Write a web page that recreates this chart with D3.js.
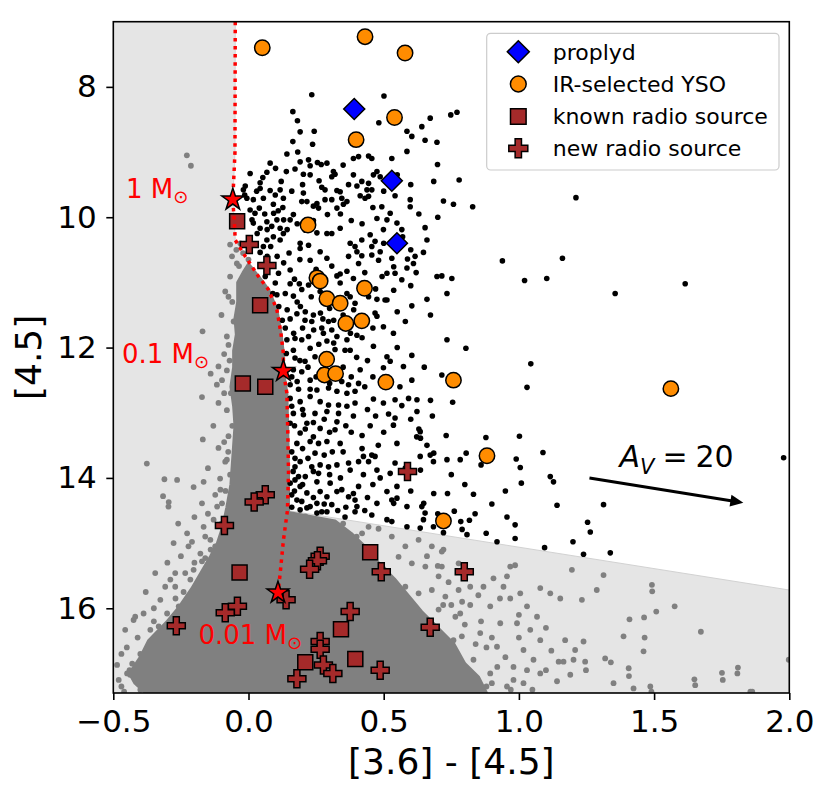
<!DOCTYPE html>
<html><head><meta charset="utf-8">
<script src="https://cdn.jsdelivr.net/npm/d3@7"></script>
<style>body{margin:0;background:#fff} svg{display:block;font-family:"DejaVu Sans",sans-serif}</style>
</head><body><svg id="chart" width="830" height="797"></svg>
<script>
// ---------------- DATA ----------------
const xDomain = [-0.5, 2.0];
const yDomain = [7.0, 17.3];
const xTicks = [-0.5, 0.0, 0.5, 1.0, 1.5, 2.0];
const yTicks = [8, 10, 12, 14, 16];
const xLabel = "[3.6] - [4.5]";
const yLabel = "[4.5]";

const proplyd = [[0.391,8.34],[0.530,9.44],[0.549,10.40]];
const irYSO = [[0.051,7.40],[0.431,7.23],[0.579,7.48],[0.540,8.47],[0.398,8.81],[0.220,10.12],
  [0.253,10.93],[0.265,10.98],[0.429,11.09],[0.290,11.25],[0.339,11.32],[0.360,11.63],[0.419,11.59],
  [0.289,12.18],[0.281,12.42],[0.322,12.40],[0.508,12.53],[0.758,12.50],[0.882,13.66],[0.721,14.66],[1.562,12.63]];
const knownRadio = [[-0.042,10.06],[0.043,11.35],[-0.021,12.55],[0.062,12.60],[-0.033,15.45],
  [0.450,15.14],[0.342,16.32],[0.210,16.83],[0.395,16.78]];
const newRadio = [[0.003,10.42],[0.068,10.74],[0.062,14.26],[0.021,14.37],[-0.089,14.73],[0.588,13.90],
  [0.265,15.20],[0.255,15.27],[0.226,15.40],[0.491,15.44],[0.139,15.87],[-0.041,15.97],[-0.086,16.07],
  [-0.267,16.27],[0.376,16.05],[0.672,16.29],[0.265,16.51],[0.265,16.63],[0.277,16.87],[0.312,17.0],
  [0.179,17.08],[0.487,16.95],[0.798,15.44]];

const isochrone = [[-0.049,7.0],[-0.05,9.0],[-0.058,9.73],[-0.052,10.1],[-0.049,10.35],[-0.012,10.6],
  [0.037,10.91],[0.074,11.11],[0.105,11.42],[0.12,11.78],[0.129,12.09],[0.129,12.36],[0.142,12.7],
  [0.146,13.42],[0.148,13.93],[0.144,14.5],[0.129,14.96],[0.117,15.47],[0.109,15.76]];
const massPoints = [[-0.058,9.73],[0.129,12.36],[0.109,15.76]];
const massNames = ["1 M", "0.1 M", "0.01 M"];
const massLabelAt = [[-0.453,9.71],[-0.468,12.24],[-0.185,16.55]];
const reddeningCut = [[0.144,14.5],[2.0,15.72]];
const avArrow = [[1.261,14.0],[1.83,14.38]];
const avLabelAt = [1.372,13.84];
const legendNames = ["proplyd","IR-selected YSO","known radio source","new radio source"];

const blackDots = [
[0.234,8.12],[0.501,8.14],[0.672,8.48],[0.482,8.55],[0.641,8.61],
[0.164,8.38],[0.181,8.52],[0.191,8.69],[0.243,8.68],[0.164,8.84],[0.237,8.88],[0.142,9.03],[0.182,9.00],[0.191,9.15],[0.222,9.12],[0.255,9.16],[0.269,9.19],[0.290,9.17],[0.172,9.26],[0.228,9.21],[0.080,9.17],[0.068,9.31],[0.006,9.33],[0.053,9.39],[0.121,9.45],[0.043,9.47],[-0.012,9.52],[-0.019,9.58],[0.043,9.56],[0.080,9.59],[0.099,9.66],[0.117,9.58],[0.129,9.71],[0.055,9.71],[0.018,9.73],[-0.006,9.71],[0.092,9.80],[0.127,9.85],[0.040,9.86],[0.006,9.89],[0.024,9.94],[0.203,9.34],[0.228,9.35],[0.261,9.44],[0.314,9.30],[0.320,9.34],[0.308,9.38],[0.271,9.54],[0.283,9.58],[0.327,9.59],[0.339,9.61],[0.345,9.71],[0.364,9.76],[0.351,9.80],[0.308,9.73],[0.283,9.73],[0.253,9.79],[0.240,9.83],[0.216,9.76],[0.197,9.76],[0.203,9.63],[0.259,9.86],[0.327,9.86],[0.292,9.96],[0.166,9.96],[0.154,10.04],[0.105,10.04],[0.086,10.14],[0.043,10.17],[0.018,10.09],[0.068,10.07],[0.117,10.17],[0.129,10.25],[0.092,10.30],[0.068,10.35],[0.055,10.45],[0.043,10.54],[0.082,10.45],[0.117,10.35],[0.191,10.40],[0.222,10.43],[0.191,10.48],[0.253,10.24],[0.290,10.25],[0.308,10.25],[0.265,10.53],[0.290,10.63],[0.228,10.66],[0.339,10.17],[0.376,10.40],[0.394,10.45],[0.401,10.53],[0.419,10.59],[0.370,10.60],[0.407,10.71],[0.308,10.75],[0.339,10.87],[0.364,10.83],[0.327,10.90],[0.154,10.81],[0.111,10.86],[0.388,9.10],[0.407,9.07],[0.444,9.06],[0.456,9.10],[0.388,9.35],[0.419,9.45],[0.401,9.52],[0.444,9.48],[0.438,9.58],[0.456,9.58],[0.413,9.67],[0.444,9.68],[0.431,9.71],[0.462,9.35],[0.475,9.30],[0.487,9.38],[0.530,9.10],[0.542,9.67],[0.598,9.73],[0.598,9.84],[0.493,9.84],[0.475,10.02],[0.512,10.04],[0.524,9.94],[0.549,10.09],[0.499,10.19],[0.450,10.27],[0.468,10.37],[0.456,10.45],[0.419,10.35],[0.481,10.66],[0.530,10.63],[0.487,10.53],[0.456,10.58],[0.586,8.99],[0.586,8.68],[0.604,8.76],[0.616,10.60],[0.610,10.71],[0.586,10.78],[0.512,10.86],[0.542,10.86],[0.388,10.94],
[0.748,8.43],[0.771,8.39],[0.653,8.82],[0.697,8.85],[0.699,9.19],[0.779,9.43],[0.721,9.75],[0.758,9.80],[0.829,9.84],[1.211,9.70],[0.567,10.19],[0.653,10.16],[0.600,10.50],[0.588,10.64],[0.647,10.54],[0.567,10.96],[0.715,10.90],[0.752,10.94],[0.939,10.67],[1.161,10.63],[1.021,10.97],[1.103,10.94],[0.660,11.26],
[1.356,11.17],[1.615,11.02],[0.734,11.88],[0.804,12.01],
[0.154,11.02],[0.188,11.02],[0.222,11.04],[0.197,11.11],[0.136,11.17],[0.166,11.21],[0.105,11.19],[0.232,11.22],[0.265,11.14],[0.339,11.01],[0.376,11.22],[0.394,11.32],[0.444,11.22],[0.475,11.26],[0.505,11.27],[0.604,11.36],[0.468,11.47],[0.179,11.48],[0.154,11.56],[0.209,11.58],[0.234,11.60],[0.275,11.56],[0.296,11.60],[0.271,11.70],[0.308,11.73],[0.136,11.70],[0.172,11.86],[0.142,11.88],[0.197,11.88],[0.222,11.83],[0.277,11.78],[0.327,11.83],[0.364,11.88],[0.401,11.81],[0.499,11.68],[0.536,11.78],[0.462,11.98],[0.376,12.04],[0.357,12.04],[0.320,12.03],[0.228,12.01],[0.166,12.04],[0.140,12.09],[0.172,12.16],[0.209,12.21],[0.246,12.14],[0.512,12.14],[0.524,12.21],[0.604,12.12],[0.573,12.29],[0.499,12.31],[0.413,12.34],[0.166,12.34],[0.197,12.37],[0.228,12.50],[0.271,12.34],[0.345,12.52],[0.370,12.57],[0.407,12.55],[0.604,12.50],[0.154,12.57],[0.185,12.64],[0.228,12.64],[0.253,12.65],[0.296,12.62],[0.327,12.67],[0.364,12.70],[0.394,12.67],[0.462,12.79],[0.499,12.85],[0.542,12.80],[0.592,12.78],[0.623,12.80],[0.567,12.89],[0.154,12.78],[0.191,12.83],[0.228,12.75],[0.265,12.83],[0.296,12.88],[0.333,12.88],[0.364,12.90],[0.246,13.01],[0.203,13.03],[0.166,13.01],[0.290,12.98],[0.333,13.01],[0.394,12.85],[0.388,13.05],[0.518,13.02],[0.542,13.08],[0.623,12.98],[0.536,13.19],[0.154,13.16],[0.216,13.16],[0.265,13.24],[0.327,13.14],[0.191,13.31],[0.228,13.44],[0.259,13.47],[0.320,13.26],[0.339,13.47],[0.179,13.47],
[0.240,13.37],[0.290,13.44],[0.172,13.70],[0.191,13.75],[0.234,13.83],[0.265,13.80],[0.296,13.83],[0.327,13.80],[0.246,13.62],[0.240,13.90],[0.259,13.93],[0.185,13.98],[0.210,13.98],[0.253,14.06],[0.302,14.08],[0.265,14.21],[0.327,14.21],[0.345,14.18],[0.191,14.13],[0.216,14.23],[0.179,14.34],[0.197,14.36],[0.228,14.44],[0.253,14.39],[0.290,14.29],[0.308,14.41],[0.370,14.29],[0.388,14.24],[0.407,14.13],[0.394,14.34],[0.370,13.77],[0.376,13.88],[0.407,13.75],[0.425,13.67],[0.444,13.75],[0.456,13.65],[0.468,13.67],[0.425,13.95],[0.475,13.88],[0.487,14.00],[0.542,13.77],[0.524,13.93],[0.512,14.21],[0.549,14.13],[0.549,14.31],[0.530,14.34],[0.475,14.39],[0.456,14.57],[0.401,14.44],[0.394,14.52],[0.357,14.60],[0.290,14.52],[0.271,14.52],[0.253,14.54],[0.216,14.46],[0.191,14.49],[0.512,14.64],[0.530,14.67],[0.586,14.75],[0.641,14.44],[0.647,14.64],[0.653,14.54],[0.672,13.65],[0.684,13.75],[0.635,13.67],[0.622,13.37],[0.635,13.29],[0.635,14.77],[0.684,14.75],[0.172,13.83],[0.154,14.08],[0.160,14.26],[0.172,14.03],
[1.044,12.25],[0.715,12.42],[1.030,12.61],[0.755,12.84],[0.731,13.35],[0.878,13.38],[1.002,13.36],[1.089,13.61],[0.805,13.62],[0.783,13.72],[0.990,13.71],[1.005,13.84],[1.116,13.98],[1.128,14.06],[1.009,14.08],[1.141,14.42],[1.313,14.41],[0.736,14.24],[0.832,14.25],[0.761,14.51],[0.838,14.55],[0.785,14.67],[0.817,14.65],[0.956,14.60],[0.986,14.72],[0.790,14.79],[0.808,14.87],[0.879,14.85],[0.986,14.93],[0.919,14.98],[1.095,15.07],[1.254,14.68],[1.264,14.83],[1.200,14.98],[1.338,15.15],[1.239,15.17],[0.721,14.84],[1.979,13.69],
[0.673,12.81],[0.630,13.25],[0.636,13.39],[0.549,13.47],[0.685,13.62],[0.734,13.72],[0.636,13.88],[0.685,14.24],[0.648,14.39],[0.586,14.44],[0.537,14.39],
[-0.014,9.66],[0.013,10.04],[0.093,9.94],[0.130,10.04],[0.032,10.25],[0.069,10.19],[0.143,10.19],[0.069,10.60],[0.106,10.60],[0.062,10.91],[0.099,11.01],[0.090,11.17],[0.112,11.37],[0.143,11.42],[0.125,11.58],[0.167,11.78],[0.192,11.37],[0.266,11.47],[0.315,11.32],[0.364,11.17],[0.389,11.42],[0.315,11.58],[0.241,11.73],[0.315,11.93],[0.377,11.78],[0.475,11.52],[0.512,11.27],[0.537,11.12],[0.494,10.91],[0.537,10.76],[0.673,11.50],[0.697,10.91],[0.734,11.17],[0.685,9.45],
[0.16,12.45],[0.18,12.52],[0.16,12.9],[0.2,12.95],[0.17,13.2],[0.21,13.25],[0.16,13.6],[0.2,13.55],[0.22,13.7],[0.165,13.9],[0.2,14.1],[0.17,14.2],[0.16,14.45],[0.24,14.3],[0.28,14.4],[0.31,13.6],[0.35,13.6],[0.28,13.65],[0.3,13.95],[0.34,14.0],[0.36,14.45],[0.33,14.5],[0.43,14.5],[0.44,14.3],[0.46,14.1],[0.42,13.55],[0.48,13.5],[0.5,13.3],[0.45,13.2],[0.42,13.35],[0.38,13.3],[0.36,13.2],[0.3,13.3],[0.28,13.1],[0.24,13.15],[0.44,12.95],[0.47,13.05],[0.43,12.6],[0.46,12.45],[0.44,12.2],[0.4,12.15],[0.35,12.3],[0.38,12.45],[0.3,12.55],[0.25,12.45],[0.22,12.3],[0.19,12.2],[0.26,11.95],[0.29,11.9],[0.24,11.5],[0.2,11.7],[0.18,11.3],[0.21,11.45],[0.3,11.4],[0.35,11.5],[0.42,11.85],[0.46,11.7],[0.55,12.0],[0.58,11.6],[0.55,11.45],[0.19,10.65],[0.17,10.95],[0.25,10.8],[0.28,10.95],[0.15,10.55],[0.13,10.7],[0.21,10.2],[0.24,10.05],[0.18,10.1],[0.14,9.3],[0.1,9.25],[0.03,9.6],[0.06,9.95],[0.11,9.9],[0.16,9.6],[0.2,9.5],[0.35,9.2],[0.37,9.5],[0.34,9.95],[0.38,10.05],[0.42,10.1],[0.46,9.85],[0.5,9.6],[0.55,9.35],[0.6,9.5],[0.63,9.95],[0.66,10.35],[0.7,10.0],[0.62,10.85],[0.5,10.4],[0.57,10.3],[0.6,11.05],[0.47,11.1],[0.43,10.85],[0.56,12.6],[0.65,12.3],[0.68,13.05],[0.6,13.1],[0.66,13.5],[0.58,13.85],[0.6,14.2],[0.7,14.55],[0.75,13.95],[0.8,14.1],[0.86,13.8],[0.9,14.4],[0.95,14.2]
];

const grayCore = [[0.0,10.72],[-0.02,10.85],[-0.04,11.0],[-0.04,11.3],[-0.05,11.55],[-0.045,11.8],[-0.055,12.05],
  [-0.055,12.3],[-0.065,12.6],[-0.055,12.9],[-0.05,13.2],[-0.055,13.5],[-0.06,13.8],[-0.065,14.1],[-0.08,14.45],
  [-0.095,14.75],[-0.115,15.0],[-0.14,15.2],[-0.175,15.45],[-0.21,15.7],[-0.26,16.0],[-0.3,16.2],[-0.37,16.5],
  [-0.4,16.75],[-0.44,17.0],[-0.42,17.15],[-0.38,17.3],[0.88,17.3],[0.85,17.05],[0.8,16.85],[0.76,16.55],
  [0.7,16.3],[0.64,16.05],[0.6,15.85],[0.54,15.55],[0.48,15.3],[0.43,15.05],[0.38,14.85],[0.32,14.66],[0.148,14.53],
  [0.148,13.93],[0.146,13.42],[0.142,12.7],[0.129,12.36],[0.129,12.09],[0.12,11.78],[0.105,11.42],[0.074,11.11],[0.037,10.91]];

const grayDots = [
[-0.228,9.05],[-0.213,9.21],[-0.068,10.42],[-0.061,10.60],[-0.043,10.71],[-0.068,10.91],[-0.086,11.14],[-0.074,11.22],[-0.17,11.75],[-0.080,11.83],[-0.074,11.96],[-0.111,12.29],[-0.098,12.50],[-0.117,12.57],[-0.172,12.76],[-0.111,12.85],[-0.080,12.96],[-0.169,13.41],[-0.111,13.54],[-0.074,13.36],[-0.376,13.78],[-0.311,14.02],[-0.203,14.14],[-0.166,14.06],[-0.105,14.01],[-0.086,13.75],[-0.068,13.95],
[-0.264,14.03],[-0.316,14.28],[-0.295,14.37],[-0.227,14.85],[-0.209,14.98],[-0.178,15.16],[-0.160,15.23],[-0.289,15.56],[-0.271,15.67],[-0.234,15.46],[-0.215,15.56],[-0.425,16.18],[-0.388,16.08],[-0.456,16.33],[-0.363,16.33],[-0.332,16.28],[-0.301,16.08],[-0.258,15.97],[-0.326,15.87],[-0.486,16.87],[-0.425,16.95],[-0.363,16.79],[-0.449,17.0],[-0.388,17.15],[-0.326,17.0],[-0.08,13.72],[-0.104,14.18],[-0.116,14.44],[-0.129,14.64],[-0.166,14.75],[-0.141,14.95],[-0.123,15.05],[-0.08,15.21],
[-0.296,14.44],[-0.172,14.39],[-0.123,14.26],[-0.098,14.39],[-0.277,15.0],[-0.222,15.05],[-0.345,15.46],[-0.308,15.67],[-0.271,15.46],[-0.203,15.41],[-0.172,15.28],[-0.419,16.13],[-0.438,17.02],[-0.394,17.10],
[0.210,14.59],[0.444,14.75],[0.481,14.78],[0.530,14.90],[0.580,15.05],[0.629,14.95],[0.678,15.05],[0.715,15.13],[0.555,15.21],[0.604,15.31],[0.654,15.36],[0.703,15.51],[0.777,15.31],[0.518,15.56],[0.580,15.67],[0.629,15.77],[0.678,15.72],[0.728,15.82],[0.777,15.72],[0.555,15.97],[0.604,16.08],[0.703,16.02],[0.765,16.13],[0.580,16.38],[0.654,16.49],[0.728,16.54],[0.789,16.43],[0.555,16.69],[0.641,16.79],[0.703,16.89],[0.765,16.79],[0.580,17.1],[0.678,17.15],[0.777,17.1],
[0.721,15.10],[0.715,15.36],[0.801,15.46],[0.820,15.67],[0.869,15.67],[0.906,15.54],[0.956,15.51],[0.968,15.36],[0.986,15.34],[0.943,15.67],[1.005,15.77],[0.968,15.85],[1.079,15.69],[1.116,15.77],[1.153,15.85],[1.196,15.41],[1.233,15.87],[1.288,15.72],[1.313,15.49],[1.492,15.64],[1.493,15.74],[1.508,16.05],[1.576,15.97],[1.409,16.17],[1.463,16.14],[1.387,16.43],[1.465,16.45],[1.461,16.66],[1.673,16.36],[1.239,16.51],[1.171,16.49],[1.208,16.64],[1.147,16.82],[1.165,16.82],[1.202,16.79],[1.245,16.82],[1.319,16.77],[1.340,16.83],[1.406,16.92],[1.248,16.95],[1.190,17.02],[1.141,17.12],[1.350,17.15],[1.424,17.23],[1.486,17.20],[1.649,17.09],[1.751,16.99],[1.810,16.91],[1.856,17.28],[1.998,16.79],[1.030,15.97],[1.067,16.13],[0.993,16.23],[1.042,16.33],[1.079,16.49],[1.017,16.64],[1.054,16.79],[0.980,16.90],[1.079,17.0],[1.017,17.15],[0.894,15.97],[0.931,16.23],[0.857,16.38],[0.919,16.59],[0.832,16.79],[0.894,17.0],[0.956,17.20],[0.857,17.2],[0.783,16.08],[0.758,16.49],[0.783,16.90],[0.808,17.2],
[1.652,17.18],[1.754,17.1],[1.863,17.28],[1.808,17.0],[1.407,17.04],[1.49,17.28],
[-0.03,10.4],[-0.02,10.55],[0.0,10.65],[-0.045,10.5],[0.01,10.8],[-0.035,10.75],[-0.01,10.85],
[-0.06,11.3],[-0.055,11.6],[-0.07,12.2],[-0.065,12.7],[-0.06,13.2],[-0.075,13.6],[-0.085,14.2],[-0.1,14.7],[-0.12,15.2],[-0.18,15.6],[-0.2,15.8],[-0.27,16.2],[-0.3,16.4],[-0.4,16.7],[-0.44,16.95],[-0.47,17.2],
[0.50,15.4],[0.55,15.8],[0.62,16.0],[0.66,16.3],[0.75,16.6],[0.80,16.9],[0.88,17.2],[0.42,14.85],[0.45,15.1],[0.35,14.7],[0.40,14.9],[0.47,15.3],[0.52,15.75],[0.68,16.25],
[0.82,15.95],[0.86,16.2],[0.9,16.45],[0.95,16.75],[0.98,17.1],[1.03,16.95],[0.7,15.35],[0.74,15.6],[0.79,15.9],[0.85,15.8],[0.88,16.6],[0.92,16.9],[1.0,16.45],[1.1,16.3],[1.12,16.65],[0.93,15.85],[1.0,16.1],[0.84,16.55],[0.9,17.15],[0.97,17.25],[1.05,17.25],[1.1,16.95],[0.66,15.2],[0.75,15.95],[0.8,16.25],[0.72,15.95],
[-0.4,17.25],[-0.45,16.6],[-0.41,16.45],[-0.35,16.0],[-0.38,15.75],[-0.3,15.3],[-0.25,15.2],[-0.2,15.3],[-0.27,15.85],[-0.32,16.6],[-0.48,17.1],[-0.47,16.7],[-0.2,14.6],[-0.26,14.7],[-0.15,14.55],[-0.14,15.1],[-0.15,13.85],[-0.13,13.2],[-0.09,12.7],[-0.09,12.1],[-0.1,11.5],[-0.14,12.4],
[-0.46,17.28],[-0.43,16.85],[-0.35,16.2],[-0.24,15.75],[-0.16,14.9],[-0.09,13.45],[-0.08,12.35]
];

// ---------------- CHART ----------------
const W = 830, H = 797;
const m = {l:113.3, r:40.7, t:21.7, b:104};
const x = d3.scaleLinear().domain(xDomain).range([m.l, W - m.r]);
const y = d3.scaleLinear().domain(yDomain).range([m.t, H - m.b]);
const svg = d3.select("#chart");
const line = d3.line().x(d => x(d[0])).y(d => y(d[1]));

svg.append("defs").append("clipPath").attr("id","clip").append("rect")
  .attr("x", m.l).attr("y", m.t).attr("width", W - m.l - m.r).attr("height", H - m.t - m.b);
const plot = svg.append("g").attr("clip-path","url(#clip)");

// shaded excluded region
const shade = [[xDomain[0], yDomain[0]]]
  .concat(isochrone.filter(p => p[1] < reddeningCut[0][1]))
  .concat(reddeningCut)
  .concat([[xDomain[1], yDomain[1]], [xDomain[0], yDomain[1]]]);
plot.append("path").attr("d", line(shade) + "Z")
  .attr("fill", "#e5e5e5").attr("stroke", "#d2d2d2").attr("stroke-width", 1);

// gray sources: dense core + individual sources
plot.append("path").attr("d", line(grayCore) + "Z").attr("fill", "#808080")
  .attr("stroke", "#808080").attr("stroke-width", 3).attr("stroke-linejoin", "round");
plot.append("g").selectAll("circle").data(grayDots).join("circle")
  .attr("cx", d => x(d[0])).attr("cy", d => y(d[1])).attr("r", 2.9).attr("fill", "#808080");

// black sources
plot.append("g").selectAll("circle").data(blackDots).join("circle")
  .attr("cx", d => x(d[0])).attr("cy", d => y(d[1])).attr("r", 2.8).attr("fill", "#000");

// marker shapes
const shapes = {
  diamond: s => `M0,${-s}L${s},0L0,${s}L${-s},0Z`,
  square: s => `M${-s},${-s}H${s}V${s}H${-s}Z`,
  plus: s => { const a = s/3; return `M${-a},${-s}H${a}V${-a}H${s}V${a}H${a}V${s}H${-a}V${a}H${-s}V${-a}H${-a}Z`; },
  star: s => { let p = []; for (let i = 0; i < 10; i++) { const r = i % 2 ? s*0.382 : s; const a = Math.PI*i/5 - Math.PI/2; p.push([r*Math.cos(a), r*Math.sin(a)]); } return "M" + p.map(q => q.join(",")).join("L") + "Z"; }
};
function drawPath(g, data, shape, size, fill) {
  g.append("g").selectAll("path").data(data).join("path")
    .attr("d", shapes[shape](size))
    .attr("transform", d => `translate(${x(d[0])},${y(d[1])})`)
    .attr("fill", fill).attr("stroke", "#000").attr("stroke-width", 1.5).attr("stroke-linejoin", "miter");
}
drawPath(plot, proplyd, "diamond", 10.5, "#0000ff");
plot.append("g").selectAll("circle").data(irYSO).join("circle")
  .attr("cx", d => x(d[0])).attr("cy", d => y(d[1])).attr("r", 7.7)
  .attr("fill", "#ff8c00").attr("stroke", "#000").attr("stroke-width", 1.5);
drawPath(plot, knownRadio, "square", 7.5, "#a52a2a");
drawPath(plot, newRadio, "plus", 9, "#a52a2a");

// isochrone
plot.append("path").attr("d", line(isochrone)).attr("fill", "none")
  .attr("stroke", "#ff0000").attr("stroke-width", 3.5).attr("stroke-dasharray", "3.5,4.6");
drawPath(plot, massPoints, "star", 11.5, "#ff0000");

// mass labels
massNames.forEach((n, i) => {
  const t = svg.append("text").attr("x", x(massLabelAt[i][0])).attr("y", y(massLabelAt[i][1]))
    .attr("fill", "#ff0000").attr("font-size", 26);
  t.append("tspan").text(n);
  t.append("tspan").attr("font-size", 18).attr("dy", 5).text("\u2299");
});

// extinction arrow
const ax0 = x(avArrow[0][0]), ay0 = y(avArrow[0][1]), ax1 = x(avArrow[1][0]), ay1 = y(avArrow[1][1]);
const ang = Math.atan2(ay1 - ay0, ax1 - ax0);
const hl = 13, hw = 6;
const bx = ax1 - hl*Math.cos(ang), by = ay1 - hl*Math.sin(ang);
svg.append("line").attr("x1", ax0).attr("y1", ay0).attr("x2", bx + 2*Math.cos(ang)).attr("y2", by + 2*Math.sin(ang))
  .attr("stroke", "#000").attr("stroke-width", 3);
svg.append("path").attr("d", `M${ax1},${ay1}L${bx - hw*Math.sin(ang)},${by + hw*Math.cos(ang)}L${bx + hw*Math.sin(ang)},${by - hw*Math.cos(ang)}Z`)
  .attr("fill", "#000");
const av = svg.append("text").attr("x", x(avLabelAt[0])).attr("y", y(avLabelAt[1])).attr("font-size", 30).attr("fill", "#000");
av.append("tspan").attr("font-style", "italic").text("A");
av.append("tspan").attr("font-style", "italic").attr("font-size", 21).attr("dy", 7).text("V");
av.append("tspan").attr("dy", -7).attr("dx", 8).text("=");
av.append("tspan").attr("dx", 8).text("20");

// axes
const xAxis = d3.axisBottom(x).tickValues(xTicks).tickFormat(d3.format(".1f")).tickSize(7).tickPadding(9.5).tickSizeOuter(0);
const yAxis = d3.axisLeft(y).tickValues(yTicks).tickFormat(d3.format("d")).tickSize(7).tickPadding(9.5).tickSizeOuter(0);
const gx = svg.append("g").attr("transform", `translate(0,${H - m.b})`).call(xAxis);
const gy = svg.append("g").attr("transform", `translate(${m.l},0)`).call(yAxis);
[gx, gy].forEach(g => {
  g.attr("font-family", "DejaVu Sans, sans-serif").attr("font-size", 31);
  g.selectAll("line").attr("stroke-width", 1.6);
  g.select(".domain").remove();
  g.selectAll("text").attr("fill", "#000");
});
svg.append("rect").attr("x", m.l).attr("y", m.t).attr("width", W - m.l - m.r).attr("height", H - m.t - m.b)
  .attr("fill", "none").attr("stroke", "#000").attr("stroke-width", 1.6);

svg.append("text").attr("x", (m.l + W - m.r)/2).attr("y", 774).attr("text-anchor", "middle")
  .attr("font-size", 36).text(xLabel);
svg.append("text").attr("transform", `translate(41,${(m.t + H - m.b)/2}) rotate(-90)`).attr("text-anchor", "middle")
  .attr("font-size", 36).text(yLabel);

// legend
const lg = svg.append("g");
lg.append("rect").attr("x", 486.7).attr("y", 33.3).attr("width", 292.3).attr("height", 136.7).attr("rx", 4)
  .attr("fill", "#fff").attr("fill-opacity", 0.8).attr("stroke", "#cccccc").attr("stroke-width", 1.2);
const rows = [51.7, 84, 116.5, 148.3];
const lmx = 518.3;
const legendShapes = [["diamond", 11, "#0000ff"], ["circle", 7.9, "#ff8c00"], ["square", 7.8, "#a52a2a"], ["plus", 9.5, "#a52a2a"]];
legendShapes.forEach((s, i) => {
  if (s[0] === "circle") {
    lg.append("circle").attr("cx", lmx).attr("cy", rows[i]).attr("r", s[1]).attr("fill", s[2]).attr("stroke", "#000").attr("stroke-width", 1.5);
  } else {
    lg.append("path").attr("d", shapes[s[0]](s[1])).attr("transform", `translate(${lmx},${rows[i]})`)
      .attr("fill", s[2]).attr("stroke", "#000").attr("stroke-width", 1.5);
  }
  lg.append("text").attr("x", 552.7).attr("y", rows[i]).attr("dy", "0.36em").attr("font-size", 22).text(legendNames[i]);
});
</script></body></html>
